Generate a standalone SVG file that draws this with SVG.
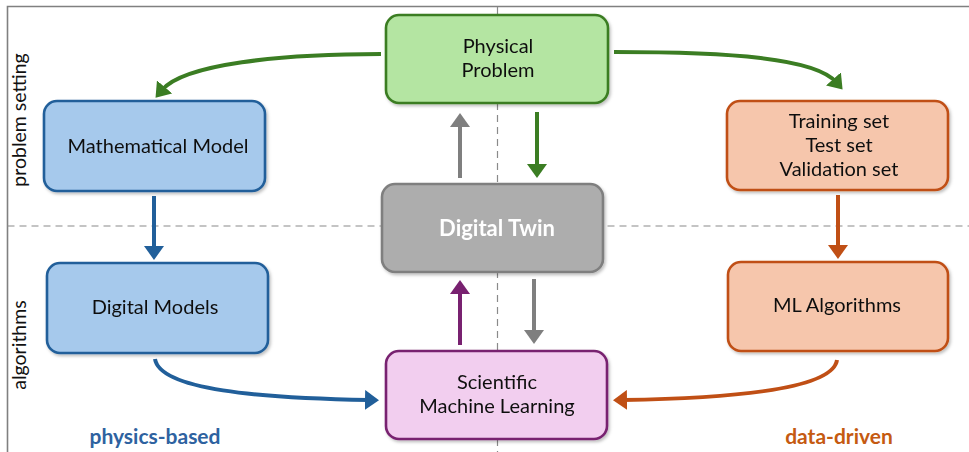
<svg xmlns="http://www.w3.org/2000/svg" width="969" height="452" viewBox="0 0 969 452">
<style>
text{font-family:Lato,"Liberation Sans",sans-serif;font-size:20px;fill:#111;text-anchor:middle}
.box{stroke-width:2.6}
.g{fill:#b4e5a2;stroke:#3b7d23}
.b{fill:#a6c9ec;stroke:#215f9a}
.o{fill:#f6c6ac;stroke:#c04f15}
.k{fill:#adadad;stroke:#7f7f7f}
.p{fill:#f2ceef;stroke:#782170}
.c{fill:none;stroke-width:4}
.frame{stroke:#808080;stroke-width:1.6;fill:none}
.dash{stroke:#8a8a8a;stroke-width:1.2;stroke-dasharray:7 5;fill:none}
</style>
<defs>
<filter id="sh" x="-10%" y="-10%" width="125%" height="130%"><feDropShadow dx="1.5" dy="2" stdDeviation="1.5" flood-color="#000" flood-opacity="0.25"/></filter>
<marker id="mg" viewBox="0 -10 14 20" refX="4" refY="0" markerWidth="14" markerHeight="20" markerUnits="userSpaceOnUse" orient="auto"><path d="M0,-10L14,0L0,10z" fill="#3b7d23"/></marker>
<marker id="mb" viewBox="0 -10 14 20" refX="4" refY="0" markerWidth="14" markerHeight="20" markerUnits="userSpaceOnUse" orient="auto"><path d="M0,-10L14,0L0,10z" fill="#215f9a"/></marker>
<marker id="mo" viewBox="0 -10 14 20" refX="4" refY="0" markerWidth="14" markerHeight="20" markerUnits="userSpaceOnUse" orient="auto"><path d="M0,-10L14,0L0,10z" fill="#c04f15"/></marker>
<marker id="mk" viewBox="0 -10 14 20" refX="4" refY="0" markerWidth="14" markerHeight="20" markerUnits="userSpaceOnUse" orient="auto"><path d="M0,-10L14,0L0,10z" fill="#7f7f7f"/></marker>
<marker id="mp" viewBox="0 -10 14 20" refX="4" refY="0" markerWidth="14" markerHeight="20" markerUnits="userSpaceOnUse" orient="auto"><path d="M0,-10L14,0L0,10z" fill="#782170"/></marker>
</defs>
<g id="frame">
<path class="frame" d="M7.5,452V6.5H969"/>
<path class="dash" d="M7.5,226H969"/>
<path class="dash" d="M497.5,7V452"/>
<text transform="translate(26,120) rotate(-90)" style="font-size:19.5px">problem setting</text>
<text transform="translate(26,345) rotate(-90)" style="font-size:19.5px">algorithms</text>
<text x="155" y="444" style="font-weight:bold;fill:#2e62a0;font-size:21px">physics-based</text>
<text x="839" y="444" style="font-weight:bold;fill:#c55a11;font-size:21px">data-driven</text>
</g>
<g id="connectors">
<path class="c" stroke="#3b7d23" d="M381,54C280,54 184,64 162,90" marker-end="url(#mg)"/>
<path class="c" stroke="#3b7d23" d="M614,52C730,52 815,58 836,82" marker-end="url(#mg)"/>
<path class="c" stroke="#7f7f7f" d="M460,178V123" marker-end="url(#mk)"/>
<path class="c" stroke="#3b7d23" d="M537,112V168" marker-end="url(#mg)"/>
<path class="c" stroke="#215f9a" d="M154,196V250" marker-end="url(#mb)"/>
<path class="c" stroke="#c04f15" d="M838,195V249" marker-end="url(#mo)"/>
<path class="c" stroke="#782170" d="M460,345V290" marker-end="url(#mp)"/>
<path class="c" stroke="#7f7f7f" d="M534,279V334" marker-end="url(#mk)"/>
<path class="c" stroke="#215f9a" d="M155,359C160,390 260,398 369,400" marker-end="url(#mb)"/>
<path class="c" stroke="#c04f15" d="M837,360C833,388 740,398 623,400" marker-end="url(#mo)"/>
</g>
<g id="physical-problem" filter="url(#sh)">
<rect class="box g" x="386" y="15" width="222" height="88" rx="13"/>
<text x="498" y="53">Physical</text>
<text x="498" y="77">Problem</text>
</g>
<g id="mathematical-model" filter="url(#sh)">
<rect class="box b" x="44" y="101" width="221" height="90" rx="13"/>
<text x="158" y="153">Mathematical Model</text>
</g>
<g id="datasets" filter="url(#sh)">
<rect class="box o" x="727" y="101" width="221" height="89" rx="13"/>
<text x="839" y="128">Training set</text>
<text x="839" y="152">Test set</text>
<text x="839" y="176">Validation set</text>
</g>
<g id="digital-twin" filter="url(#sh)">
<rect class="box k" x="382" y="184" width="221" height="88" rx="13"/>
<text x="497" y="236" style="font-weight:bold;fill:#fff;font-size:22px">Digital Twin</text>
</g>
<g id="digital-models" filter="url(#sh)">
<rect class="box b" x="47" y="263" width="221" height="90" rx="13"/>
<text x="155" y="314">Digital Models</text>
</g>
<g id="ml-algorithms" filter="url(#sh)">
<rect class="box o" x="728" y="262" width="220" height="89" rx="13"/>
<text x="837" y="312">ML Algorithms</text>
</g>
<g id="sciml" filter="url(#sh)">
<rect class="box p" x="386" y="351" width="221" height="88" rx="13"/>
<text x="497" y="389">Scientific</text>
<text x="497" y="413">Machine Learning</text>
</g>
</svg>
